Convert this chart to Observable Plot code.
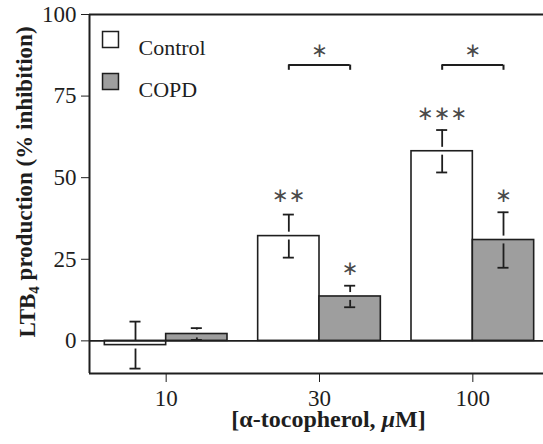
<!DOCTYPE html>
<html>
<head>
<meta charset="utf-8">
<script src="https://cdn.jsdelivr.net/npm/d3@7"></script>
<script src="https://cdn.jsdelivr.net/npm/@observablehq/plot@0.6"></script>
<style>
  html, body { margin: 0; padding: 0; background: white; overflow: hidden; }
  #wrap { position: relative; width: 543px; height: 444px; overflow: hidden; }
  .mask { position: absolute; left: 537px; width: 6px; background: white; }
</style>
</head>
<body>
<div id="wrap">
  <div id="chart"></div>
  <div class="mask" style="top:16px;height:322px"></div>
  <div class="mask" style="top:342px;height:29px"></div>
</div>
<script>
// ---- data ----
const doses = ["10", "30", "100"];
const groups = ["Control", "COPD"];
const controlMean = [-1.3, 32.1, 58.1];
const controlErr = [7.2, 6.6, 6.5];
const copdMean = [2.1, 13.6, 30.9];
const copdErr = [1.8, 3.3, 8.5];
const yTicks = [0, 25, 50, 75, 100];
// significance stars above individual bars
const starDose = [1, 1, 2, 2];
const starGroup = ["Control", "COPD", "Control", "COPD"];
const starText = ["\u2217\u2217", "\u2217", "\u2217\u2217\u2217", "\u2217"];
const starY = [44.5, 22, 69.6, 44.5];
// between-group brackets
const bracketDose = [1, 2];
const bracketY = [84.5, 84.5];
const bracketText = ["\u2217", "\u2217"];

// ---- layout / style ----
const barW = 0.4, capHalf = 0.036, gap = 1.2;
const fills = {Control: "white", COPD: "#9e9e9e"};
const ink = "#1e1e1e";
const offset = g => g === "Control" ? -barW / 2 : barW / 2;

const bars = [];
doses.forEach((d, i) => {
  bars.push({dose: i, group: "Control", mean: controlMean[i], err: controlErr[i]});
  bars.push({dose: i, group: "COPD", mean: copdMean[i], err: copdErr[i]});
});
bars.forEach(b => { b.xc = b.dose + offset(b.group); });
const stars = starDose.map((d, i) => ({x: d + offset(starGroup[i]), y: starY[i], text: starText[i]}));
const brackets = bracketDose.map((d, i) => ({x1: d - barW / 2, x2: d + barW / 2, y: bracketY[i], text: bracketText[i]}));

const legendMarks = groups.flatMap((g, i) => [
  Plot.dot([g], {frameAnchor: "top-left", dx: 21, dy: 25 + 42 * i, symbol: "square", r: 9, fill: fills[g], stroke: ink, strokeWidth: 1.5}),
  Plot.text([g], {frameAnchor: "top-left", dx: 49, dy: 25 + 42 * i, text: d => d, textAnchor: "start", fontSize: 22, fill: ink})
]);

const plot = Plot.plot({
  width: 543,
  height: 444,
  marginLeft: 89,
  marginRight: 0,
  marginTop: 14,
  marginBottom: 71,
  style: {fontFamily: "Liberation Serif, Times New Roman, serif", fontSize: "23px", color: ink, background: "white"},
  x: {domain: [-0.5, 2.5], range: [89, 549], ticks: [0, 1, 2], tickFormat: i => doses[i], tickSize: 9, tickPadding: 7, label: null},
  y: {domain: [-10, 100], ticks: yTicks, tickSize: 8, tickPadding: 5, label: null},
  marks: [
    Plot.rect(bars, {
      x1: b => b.xc - barW / 2, x2: b => b.xc + barW / 2,
      y1: 0, y2: "mean",
      fill: b => fills[b.group], stroke: ink, strokeWidth: 1.6
    }),
    // frame: left side, top, bottom (right side lies beyond the picture), zero line
    Plot.ruleX([-0.5], {stroke: ink, strokeWidth: 2}),
    Plot.ruleY([100, -10], {x1: -0.5, x2: 2.5, stroke: ink, strokeWidth: 2}),
    Plot.ruleY([0], {x1: -0.5, x2: 2.5, stroke: ink, strokeWidth: 1.6}),
    // error bars (stems interrupted at the bar top)
    Plot.ruleX(bars.filter(b => b.err > gap), {x: "xc", y1: b => b.mean + gap, y2: b => b.mean + b.err, stroke: ink, strokeWidth: 1.8}),
    Plot.ruleX(bars.filter(b => b.err > gap), {x: "xc", y1: b => b.mean - gap, y2: b => b.mean - b.err, stroke: ink, strokeWidth: 1.8}),
    Plot.ruleY(bars, {y: b => b.mean + b.err, x1: b => b.xc - capHalf, x2: b => b.xc + capHalf, stroke: ink, strokeWidth: 1.8}),
    Plot.ruleY(bars, {y: b => b.mean - b.err, x1: b => b.xc - capHalf, x2: b => b.xc + capHalf, stroke: ink, strokeWidth: 1.8}),
    // significance marks
    Plot.text(stars, {x: "x", y: "y", text: "text", fontFamily: "DejaVu Sans", fontSize: 20, fill: "#4a4a4a"}),
    Plot.ruleY(brackets, {y: "y", x1: "x1", x2: "x2", stroke: ink, strokeWidth: 2}),
    Plot.ruleX(brackets, {x: "x1", y1: "y", y2: b => b.y - 1.6, stroke: ink, strokeWidth: 2}),
    Plot.ruleX(brackets, {x: "x2", y1: "y", y2: b => b.y - 1.6, stroke: ink, strokeWidth: 2}),
    Plot.text(brackets, {x: b => (b.x1 + b.x2) / 2, y: b => b.y + 4.5, text: "text", fontFamily: "DejaVu Sans", fontSize: 20, fill: "#4a4a4a"}),
    ...legendMarks,
    // axis titles
    Plot.text(["LTB4 production (% inhibition)"], {frameAnchor: "left", textAnchor: "middle", lineAnchor: "middle", dx: -62, dy: -12, rotate: -90, fontWeight: "bold", fontSize: 23, ariaDescription: "ytitle"}),
    Plot.text(["[\u03b1-tocopherol, \u03bcM]"], {frameAnchor: "bottom", textAnchor: "middle", dx: 12, dy: 53, fontWeight: "bold", fontSize: 24, ariaDescription: "xtitle"})
  ]
});

document.getElementById("chart").appendChild(plot);

// subscript 4 and italic mu in the titles
const yt = d3.select(plot).select('g[aria-description="ytitle"] text');
yt.text(null);
yt.append("tspan").text("LTB");
yt.append("tspan").attr("font-size", "15px").attr("dy", "0.3em").text("4");
yt.append("tspan").attr("dy", "-0.3em").text(" production (% inhibition)");
const xt = d3.select(plot).select('g[aria-description="xtitle"] text');
xt.text(null);
xt.append("tspan").text("[\u03b1-tocopherol, ");
xt.append("tspan").attr("font-style", "italic").text("\u03bc");
xt.append("tspan").text("M]");
</script>
</body>
</html>
